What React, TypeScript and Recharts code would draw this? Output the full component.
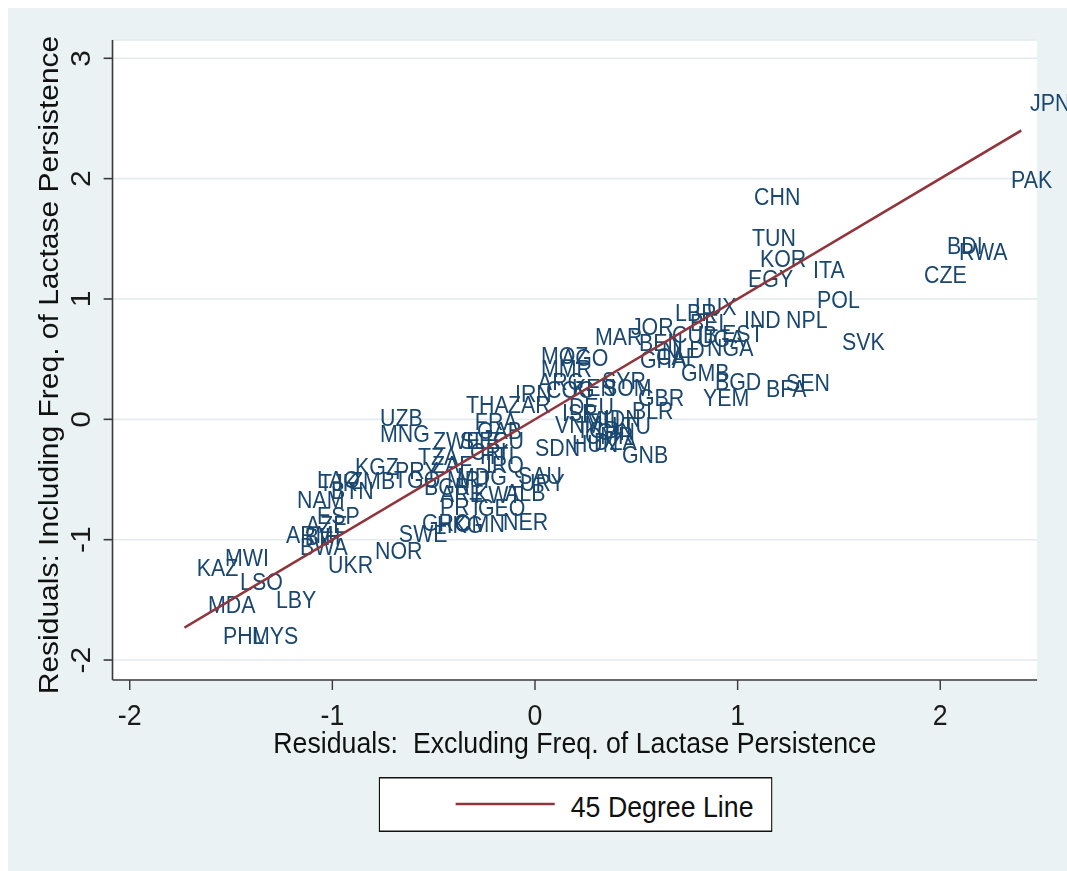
import React from 'react';
import { ScatterChart, Scatter, XAxis, YAxis, CartesianGrid, Legend, Label } from 'recharts';

const codes = ['JPN','PAK','BDI','RWA','CZE','CHN','TUN','KOR','EGY','ITA','POL','SVK','IND','NPL','SEN','BFA','BGD','YEM','GMB','EST','LUX','LBR','BEL','JOR','MAR','CUB','UGA','BEN','NLD','NGA','GHA','CAF','MOZ','AGO','MMR','ARG','COG','KEN','SYR','SOM','IRN','THA','ZAR','DEU','ISR','GBR','BLR','VNM','MLI','IDN','TCD','GIN','CMR','HUN','LTU','DZA','SDN','GNB','FRA','GAB','UZB','MNG','ZWE','SLE','ECU','CRI','HTI','IRQ','TZA','ZAF','KGZ','PRY','TGO','MDG','MRT','BGR','SAU','URY','ARE','KWT','ALB','PRT','GEO','GRC','HKG','OMN','NER','SWE','NOR','UKR','BWA','ARM','BIH','AZE','ESP','NAM','LAO','TJK','BTN','ZMB','KAZ','MWI','LSO','MDA','LBY','PHL','MYS'];

const residExcl = [
  2.394, 2.300, 1.984, 2.043, 1.871, 1.032, 1.022, 1.061, 1.002, 1.323,
  1.343, 1.466, 0.982, 1.190, 1.190, 1.091, 0.839, 0.780, 0.671, 0.874,
  0.740, 0.642, 0.716, 0.424, 0.247, 0.627, 0.755, 0.464, 0.577, 0.800,
  0.469, 0.548, -0.020, 0.079, -0.020, -0.035, 0.005, 0.133, 0.281, 0.286,
  -0.148, -0.390, -0.183, 0.118, 0.084, 0.459, 0.429, 0.049, 0.197, 0.291,
  0.153, 0.257, 0.197, 0.133, 0.331, 0.242, -0.049, 0.380, -0.346, -0.336,
  -0.814, -0.814, -0.553, -0.420, -0.326, -0.370, -0.321, -0.291, -0.627, -0.558,
  -0.938, -0.740, -0.745, -0.434, -0.484, -0.597, -0.133, -0.123, -0.518, -0.350,
  -0.197, -0.518, -0.331, -0.607, -0.533, -0.444, -0.207, -0.721, -0.839, -1.071,
  -1.209, -1.278, -1.185, -1.180, -1.125, -1.224, -1.125, -1.115, -1.056, -0.962,
  -1.718, -1.579, -1.505, -1.663, -1.328, -1.589, -1.446,
];

const residIncl = [
  2.628, 1.989, 1.440, 1.390, 1.199, 1.847, 1.507, 1.332, 1.166, 1.241,
  0.991, 0.642, 0.825, 0.825, 0.302, 0.252, 0.310, 0.177, 0.385, 0.709,
  0.933, 0.883, 0.800, 0.767, 0.684, 0.700, 0.667, 0.634, 0.576, 0.592,
  0.493, 0.518, 0.526, 0.509, 0.418, 0.310, 0.243, 0.260, 0.318, 0.260,
  0.210, 0.119, 0.119, 0.102, 0.052, 0.177, 0.069, -0.047, -0.006, 0.002,
  -0.089, -0.106, -0.139, -0.205, -0.056, -0.189, -0.238, -0.297, -0.022, -0.097,
  0.011, -0.122, -0.180, -0.180, -0.180, -0.272, -0.305, -0.380, -0.313, -0.380,
  -0.396, -0.430, -0.504, -0.479, -0.504, -0.563, -0.471, -0.529, -0.621, -0.629,
  -0.612, -0.729, -0.737, -0.862, -0.878, -0.870, -0.853, -0.953, -1.094, -1.211,
  -1.061, -0.961, -0.978, -0.878, -0.804, -0.671, -0.504, -0.529, -0.596, -0.513,
  -1.236, -1.153, -1.352, -1.543, -1.502, -1.801, -1.801,
];

const lineX = [-1.73, 2.40];
const lineY = [-1.73, 2.40];

const xTicks = [-2, -1, 0, 1, 2];
const yTicks = [-2, -1, 0, 1, 2, 3];

const xTitle = 'Residuals:\u00a0 Excluding Freq. of Lactase Persistence';
const yTitle = 'Residuals: Including Freq. of Lactase Persistence';
const lineName = '45 Degree Line';

const labelData = codes.map((code, i) => ({ x: residExcl[i], y: residIncl[i], code }));
const lineData = lineX.map((x, i) => ({ x, y: lineY[i] }));

const FONT = '"Liberation Sans", Arial, Helvetica, sans-serif';
const NAVY = '#1a476f';
const MAROON = '#90353b';
const BG = '#eaf2f3';
const AXIS = '#3a3a3a';

const SQUASH = 0.891;
const W = 1180;
const H = 858;

const CountryLabel = (p: any) => {
  const { cx, cy, payload } = p;
  if (cx == null || cy == null) return <g />;
  return (
    <text x={cx + 11.2} y={cy} dy="0.35em" fontSize={24} fill={NAVY} fontFamily={FONT}>
      {payload.code}
    </text>
  );
};

const XTick = (p: any) => (
  <text x={p.x} y={p.y} dy={33} textAnchor="middle" fontSize={30} fill="#1a1a1a" fontFamily={FONT}>
    {p.payload.value}
  </text>
);

const YTick = (p: any) => {
  const bx = p.x - 13.3;
  return (
    <text
      x={bx}
      y={p.y}
      transform={`rotate(-90 ${bx} ${p.y})`}
      textAnchor="middle"
      fontSize={30}
      fill="#1a1a1a"
      fontFamily={FONT}
    >
      {p.payload.value}
    </text>
  );
};

const XTitle = (p: any) => {
  const vb = p.viewBox || { x: 117.3, y: 672, width: 1037.7, height: 60 };
  return (
    <text x={vb.x + vb.width / 2} y={vb.y + 73} textAnchor="middle" fontSize={30} fill="#111" fontFamily={FONT}>
      {xTitle}
    </text>
  );
};

const YTitle = (p: any) => {
  const vb = p.viewBox || { x: 57.3, y: 32, width: 60, height: 640 };
  const x = vb.x - 1.3;
  const y = vb.y + vb.height / 2 + 5;
  return (
    <text x={x} y={y} transform={`rotate(-90 ${x} ${y})`} textAnchor="middle" fontSize={30} fill="#111" fontFamily={FONT}>
      {yTitle}
    </text>
  );
};

const LegendBox = (p: any) => {
  const items = (p && p.payload) || [];
  const item = items.find((e: any) => e.value === lineName);
  const color = (item && item.color) || MAROON;
  const text = (item && item.value) || lineName;
  return (
    <svg width={442} height={55} style={{ display: 'block', overflow: 'visible' }}>
      <rect x={0.75} y={0.75} width={440.5} height={53.5} fill="#fff" stroke="#111" strokeWidth={1.5} />
      <line x1={86.4} x2={197.6} y1={27} y2={27} stroke={color} strokeWidth={2.6} />
      <text x={215.6} y={40} fontSize={30} fill="#111" fontFamily={FONT}>
        {text}
      </text>
    </svg>
  );
};

export default function App() {
  return (
    <div
      style={{
        position: 'fixed',
        left: 8,
        top: 8,
        width: 1059,
        height: 863,
        background: BG,
        overflow: 'hidden',
      }}
    >
      <style>{`.recharts-surface{overflow:visible}`}</style>
      <div style={{ width: W, height: H, transform: `scaleX(${SQUASH})`, transformOrigin: '0 0' }}>
        <ScatterChart width={W} height={H} margin={{ top: 32, right: 25, bottom: 126, left: 57.3 }}>
          <CartesianGrid vertical={false} stroke="#e3ebee" strokeWidth={1.6} fill="#ffffff" />
          <XAxis
            type="number"
            dataKey="x"
            domain={[-2.085, 2.478]}
            ticks={xTicks}
            interval={0}
            height={60}
            tickSize={10}
            axisLine={{ stroke: AXIS, strokeWidth: 1.6 }}
            tickLine={{ stroke: AXIS, strokeWidth: 1.6 }}
            tick={<XTick />}
          >
            <Label content={<XTitle />} />
          </XAxis>
          <YAxis
            type="number"
            dataKey="y"
            domain={[-2.166, 3.152]}
            ticks={yTicks}
            interval={0}
            width={60}
            tickSize={10}
            axisLine={{ stroke: AXIS, strokeWidth: 1.8 }}
            tickLine={{ stroke: AXIS, strokeWidth: 1.6 }}
            tick={<YTick />}
          >
            <Label content={<YTitle />} />
          </YAxis>
          <Scatter
            name="countries"
            data={labelData}
            legendType="none"
            fill={NAVY}
            shape={<CountryLabel />}
            isAnimationActive={false}
          />
          <Scatter
            name={lineName}
            data={lineData}
            fill={MAROON}
            line={{ stroke: MAROON, strokeWidth: 2.6 }}
            legendType="line"
            shape={() => <g />}
            isAnimationActive={false}
          />
          <Legend
            layout="horizontal"
            verticalAlign="middle"
            align="center"
            wrapperStyle={{ position: 'absolute', left: 416.4, top: 769, width: 442, height: 55, margin: 0, padding: 0 }}
            content={<LegendBox />}
          />
        </ScatterChart>
      </div>
    </div>
  );
}
